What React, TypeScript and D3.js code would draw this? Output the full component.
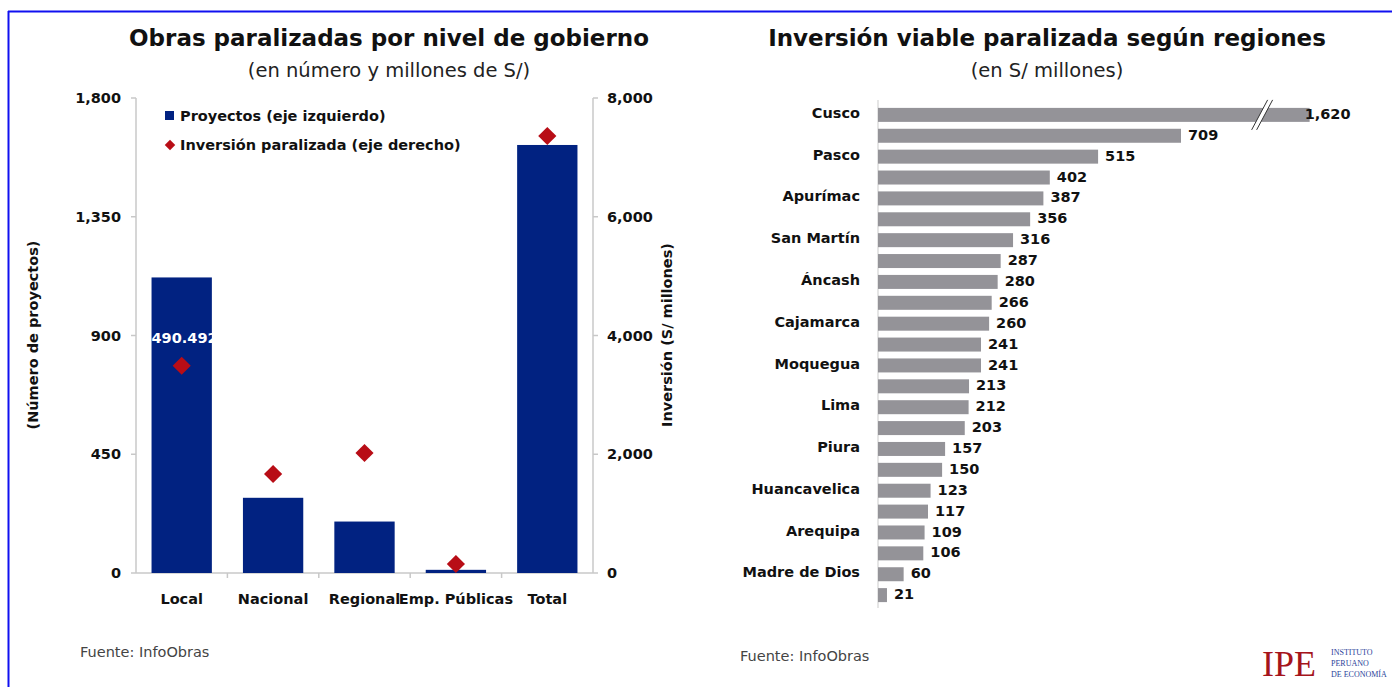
import React from "react";
import * as d3 from "d3";

// gobierno chart
const levels = ["Local", "Nacional", "Regional", "Emp. Públicas", "Total"];
const proyectos = [1120, 285, 195, 12, 1622];
const inversion = [3490, 1667, 2021, 152, 7360];
const leftTicks = [0, 450, 900, 1350, 1800];
const rightTicks = [0, 2000, 4000, 6000, 8000];

// regiones chart
const regiones = [
  "Cusco", "", "Pasco", "", "Apurímac", "", "San Martín", "", "Áncash", "",
  "Cajamarca", "", "Moquegua", "", "Lima", "", "Piura", "", "Huancavelica", "",
  "Arequipa", "", "Madre de Dios", "",
];
const montos = [
  1620, 709, 515, 402, 387, 356, 316, 287, 280, 266, 260, 241, 241, 213, 212,
  203, 157, 150, 123, 117, 109, 106, 60, 21,
];
const breakAt = 1010;

const FONT = "'DejaVu Sans', sans-serif";
const NAVY = "#012281";
const RED = "#b80d16";
const GRAY = "#949398";
const AXIS = "#c8c8c8";

const fmt = d3.format(",");

const App = () => {
  const width = 1392,
    height = 687;

  const x = d3
    .scaleBand()
    .domain(levels)
    .range([136, 593])
    .paddingInner(0.34)
    .paddingOuter(0.17);
  const yL = d3.scaleLinear().domain([0, 1800]).range([573, 98]);
  const yR = d3.scaleLinear().domain([0, 8000]).range([573, 98]);
  const diamond = d3.symbol().type(d3.symbolSquare).size(165)();
  const diamondSmall = d3.symbol().type(d3.symbolSquare).size(55)();

  const keys = regiones.map((_, i) => String(i));
  const yB = d3.scaleBand().domain(keys).range([101, 609]).padding(0.33);
  const xB = d3.scaleLinear().domain([0, 709]).range([878, 1181]);
  const bw = yB.bandwidth();

  return (
    <svg
      width={width}
      height={height}
      style={{ position: "absolute", left: 0, top: 0, background: "#fff" }}
      fontFamily={FONT}
    >
      <line x1={8} x2={1392} y1={11.5} y2={11.5} stroke="#1010f0" strokeWidth={2} />
      <line x1={8.5} x2={8.5} y1={11} y2={687} stroke="#1010f0" strokeWidth={2} />

      {/* left chart */}
      <text x={389} y={46} textAnchor="middle" fontSize={23} fontWeight="bold" fill="#111">
        Obras paralizadas por nivel de gobierno
      </text>
      <text x={389} y={77} textAnchor="middle" fontSize={19.5} fill="#222">
        (en número y millones de S/)
      </text>

      <line x1={136} x2={136} y1={98} y2={573} stroke={AXIS} strokeWidth={1.5} />
      <line x1={593} x2={593} y1={98} y2={573} stroke={AXIS} strokeWidth={1.5} />
      <line x1={136} x2={593} y1={573} y2={573} stroke={AXIS} strokeWidth={1.5} />
      {leftTicks.map((t) => (
        <g key={"l" + t} transform={`translate(0,${yL(t)})`}>
          <line x1={131} x2={136} stroke={AXIS} strokeWidth={1.5} />
          <text x={121} dy="0.35em" textAnchor="end" fontSize={14.5} fontWeight="bold" fill="#111">
            {fmt(t)}
          </text>
        </g>
      ))}
      {rightTicks.map((t) => (
        <g key={"r" + t} transform={`translate(0,${yR(t)})`}>
          <line x1={593} x2={598} stroke={AXIS} strokeWidth={1.5} />
          <text x={607} dy="0.35em" textAnchor="start" fontSize={14.5} fontWeight="bold" fill="#111">
            {fmt(t)}
          </text>
        </g>
      ))}
      {levels.slice(1).map((c) => (
        <line
          key={"tk" + c}
          x1={x(c)! - (x.step() - x.bandwidth()) / 2}
          x2={x(c)! - (x.step() - x.bandwidth()) / 2}
          y1={573}
          y2={578}
          stroke={AXIS}
          strokeWidth={1.5}
        />
      ))}
      <text
        transform="translate(38,335) rotate(-90)"
        textAnchor="middle"
        fontSize={14.5}
        fontWeight="bold"
        fill="#111"
      >
        (Número de proyectos)
      </text>
      <text
        transform="translate(672,335) rotate(-90)"
        textAnchor="middle"
        fontSize={14.5}
        fontWeight="bold"
        fill="#111"
      >
        Inversión (S/ millones)
      </text>

      {levels.map((c, i) => (
        <rect
          key={"b" + c}
          x={x(c)}
          y={yL(proyectos[i])}
          width={x.bandwidth()}
          height={yL(0) - yL(proyectos[i])}
          fill={NAVY}
        />
      ))}
      <text
        x={x("Local")!}
        y={338}
        dy="0.35em"
        fontSize={14.5}
        fontWeight="bold"
        fill="#fff"
      >
        490.492
      </text>
      {levels.map((c, i) => (
        <path
          key={"d" + c}
          d={diamond}
          transform={`translate(${x(c)! + x.bandwidth() / 2},${yR(inversion[i])}) rotate(45)`}
          fill={RED}
        />
      ))}
      {levels.map((c) => (
        <text
          key={"xl" + c}
          x={x(c)! + x.bandwidth() / 2}
          y={599}
          dy="0.35em"
          textAnchor="middle"
          fontSize={14.5}
          fontWeight="bold"
          fill="#111"
        >
          {c}
        </text>
      ))}

      <rect x={165} y={111} width={9} height={9} fill={NAVY} />
      <text x={180} y={116} dy="0.35em" fontSize={14.5} fontWeight="bold" fill="#111">
        Proyectos (eje izquierdo)
      </text>
      <path d={diamondSmall} transform="translate(170,145) rotate(45)" fill={RED} />
      <text x={180} y={145} dy="0.35em" fontSize={14.5} fontWeight="bold" fill="#111">
        Inversión paralizada (eje derecho)
      </text>

      <text x={80} y={657} fontSize={14.5} fill="#444">
        Fuente: InfoObras
      </text>

      {/* right chart */}
      <text x={1047} y={46} textAnchor="middle" fontSize={23} fontWeight="bold" fill="#111">
        Inversión viable paralizada según regiones
      </text>
      <text x={1047} y={77} textAnchor="middle" fontSize={19.5} fill="#222">
        (en S/ millones)
      </text>
      <line x1={878} x2={878} y1={100} y2={608} stroke="#dcdcdc" strokeWidth={1.5} />
      {montos.map((v, i) => {
        const y0 = yB(String(i))!;
        const shown = Math.min(v, breakAt);
        const xe = xB(shown);
        return (
          <g key={"rb" + i}>
            <rect x={xB(0)} y={y0} width={xe - xB(0)} height={bw} fill={GRAY} />
            <text
              x={v > breakAt ? xe - 5 : xe + 7}
              y={y0 + bw / 2 - 1}
              dy="0.35em"
              fontSize={14.5}
              fontWeight="bold"
              fill="#111"
            >
              {fmt(v)}
            </text>
            {regiones[i] && (
              <text
                x={860}
                y={y0 + bw / 2 - 2}
                dy="0.35em"
                textAnchor="end"
                fontSize={14.5}
                fontWeight="bold"
                fill="#111"
              >
                {regiones[i]}
              </text>
            )}
          </g>
        );
      })}
      {(() => {
        const bx = xB(900);
        const cy = yB("0")! + bw / 2;
        return (
          <g>
            <polygon
              points={`${bx - 11},${cy + 15} ${bx + 5},${cy - 15} ${bx + 10},${cy - 15} ${bx - 6},${cy + 15}`}
              fill="#fff"
            />
            <line x1={bx - 11} y1={cy + 15} x2={bx + 5} y2={cy - 15} stroke="#333" strokeWidth={1} />
            <line x1={bx - 6} y1={cy + 15} x2={bx + 10} y2={cy - 15} stroke="#333" strokeWidth={1} />
          </g>
        );
      })()}

      <text x={740} y={661} fontSize={14.5} fill="#444">
        Fuente: InfoObras
      </text>

      <text x={1262} y={676} fontSize={36} fontFamily="'Liberation Serif', serif" fill="#a5141c">
        IPE
      </text>
      <text x={1331} y={655} fontSize={8} fontFamily="'Liberation Serif', serif" fill="#2a3f9a">
        INSTITUTO
      </text>
      <text x={1331} y={666} fontSize={8} fontFamily="'Liberation Serif', serif" fill="#2a3f9a">
        PERUANO
      </text>
      <text x={1331} y={677} fontSize={8} fontFamily="'Liberation Serif', serif" fill="#2a3f9a">
        DE ECONOMÍA
      </text>
    </svg>
  );
};

export default App;
